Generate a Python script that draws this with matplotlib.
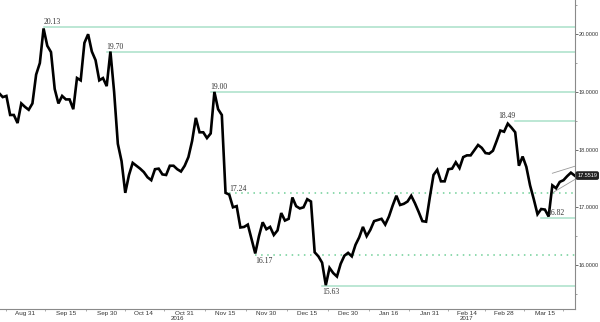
import numpy as np
import pandas as pd
import matplotlib
matplotlib.use("Agg")
import matplotlib.pyplot as plt
import matplotlib.transforms as mtransforms

# ---------------- data ----------------
start_date = "2016-08-22"
prices = [
    18.98, 18.91, 18.93, 18.60, 18.60, 18.46, 18.80, 18.74, 18.69, 18.80,
    19.30, 19.50, 20.10, 19.80, 19.69, 19.05, 18.80, 18.93, 18.87, 18.87,
    18.70, 19.24, 19.20, 19.85, 20.00, 19.70, 19.55, 19.20, 19.24, 19.10,
    19.70, 19.00, 18.10, 17.80, 17.25, 17.56, 17.77, 17.72, 17.67, 17.61,
    17.52, 17.47, 17.66, 17.67, 17.57, 17.56, 17.72, 17.72, 17.66, 17.62,
    17.72, 17.87, 18.15, 18.55, 18.30, 18.30, 18.20, 18.28, 19.00, 18.70,
    18.60, 17.25, 17.22, 17.00, 17.02, 16.65, 16.66, 16.70, 16.45, 16.20,
    16.50, 16.74, 16.62, 16.66, 16.52, 16.60, 16.90, 16.77, 16.80, 17.17,
    17.02, 16.98, 17.00, 17.14, 17.10, 16.22, 16.15, 16.04, 15.65, 15.95,
    15.86, 15.80, 16.02, 16.16, 16.21, 16.15, 16.35, 16.48, 16.66, 16.50,
    16.61, 16.76, 16.78, 16.80, 16.70, 16.84, 17.03, 17.20, 17.04, 17.06,
    17.10, 17.20, 17.07, 16.92, 16.76, 16.75, 17.17, 17.56, 17.65, 17.45,
    17.45, 17.66, 17.67, 17.78, 17.68, 17.87, 17.90, 17.90, 17.99, 18.08,
    18.03, 17.94, 17.93, 17.98, 18.15, 18.33, 18.31, 18.45, 18.38, 18.30,
    17.72, 17.88, 17.70, 17.38, 17.14, 16.88, 16.97, 16.96, 16.84, 17.38,
    17.33, 17.44, 17.47, 17.54, 17.60, 17.55,
]
last_label = "17.5519"

tick_dates = ["2016-08-31", "2016-09-15", "2016-09-30", "2016-10-14", "2016-10-31",
              "2016-11-15", "2016-11-30", "2016-12-15", "2016-12-30", "2017-01-16",
              "2017-01-31", "2017-02-14", "2017-02-28", "2017-03-15"]
tick_labels = ["Aug 31", "Sep 15", "Sep 30", "Oct 14", "Oct 31", "Nov 15", "Nov 30",
               "Dec 15", "Dec 30", "Jan 16", "Jan 31", "Feb 14", "Feb 28", "Mar 15"]
year_labels = ["2016", "2017"]
year_dates = ["2016-10-27", "2017-02-14"]

level_values = [20.13, 19.70, 19.00, 18.49, 17.24, 16.17, 15.63, 16.82]
level_texts = ["20.13", "19.70", "19.00", "18.49", "17.24", "16.17", "15.63", "16.82"]
level_dates = ["2016-09-07", "2016-09-30", "2016-11-09", "2017-03-03", "2016-11-16",
               "2016-11-25", "2016-12-21", "2017-03-14"]
level_dotted = [False, False, False, False, True, True, False, False]

channel_dates = ["2017-03-17", "2017-03-27"]
channel_upper = [17.59, 17.71]
channel_lower = [17.25, 17.48]

yticks = [16.0, 17.0, 18.0, 19.0, 20.0]

# ---------------- plot ----------------
plt.rcParams["font.family"] = ["Liberation Sans", "DejaVu Sans"]

bdays = pd.bdate_range(start_date, periods=len(prices))
pos = {d.strftime("%Y-%m-%d"): i for i, d in enumerate(bdays)}
idx = np.arange(len(prices))

fig = plt.figure(figsize=(6.0, 3.22), dpi=100)
ax = fig.add_axes([0.0, 13 / 322, 575 / 600, 309 / 322])

green = "#a9e0c9"
dotgreen = "#6fcf97"
txtc = "#333333"
serif = ["Liberation Serif", "DejaVu Serif"]

for v, t, d, dot in zip(level_values, level_texts, level_dates, level_dotted):
    x0 = pos[d]
    if dot:
        ax.plot([x0, idx[-1] + 1], [v, v], color=dotgreen, lw=1.1,
                linestyle=(0, (1, 3)), zorder=1)
    else:
        ax.plot([x0, idx[-1] + 1], [v, v], color=green, lw=1.1, zorder=1)

ax.plot(idx, prices, color="black", lw=1.9, zorder=3, solid_joinstyle="miter")

ch = [pos[d] for d in channel_dates]
ax.plot(ch, channel_upper, color="#999999", lw=0.6, zorder=2)
ax.plot(ch, channel_lower, color="#999999", lw=0.6, zorder=2)

# level annotations
for v, t, d in zip(level_values, level_texts, level_dates):
    x0 = pos[d]
    if t in ("16.17", "15.63"):
        ax.text(x0, v - 0.03, t, fontsize=5.5, family=serif, color=txtc,
                ha="left", va="top", zorder=4)
    elif t == "18.49":
        ax.text(x0 + 0.2, v + 0.02, t, fontsize=5.5, family=serif, color=txtc,
                ha="right", va="bottom", zorder=4)
    elif t == "16.82":
        ax.text(x0 + 1.6, v + 0.02, t, fontsize=5.5, family=serif, color=txtc,
                ha="left", va="bottom", zorder=4)
    else:
        ax.text(x0, v + 0.01, t, fontsize=5.5, family=serif, color=txtc,
                ha="left", va="bottom", zorder=4)

ax.set_xlim(0.27, 155.1)
ax.set_ylim(15.237, 20.593)

for s in ("top", "left"):
    ax.spines[s].set_visible(False)
for s in ("right", "bottom"):
    ax.spines[s].set_color("#8a8a8a")
    ax.spines[s].set_linewidth(0.8)

ax.yaxis.tick_right()
ax.set_yticks(yticks)
ax.set_yticklabels([f"{v:.4f}" for v in yticks])
ax.set_yticks(np.arange(15.5, 20.6, 1.0), minor=True)
ax.tick_params(axis="y", which="major", length=1.8, width=0.6, color="#555555",
               labelsize=4.0, pad=0.8, labelcolor=txtc)
ax.tick_params(axis="y", which="minor", length=1.5, width=0.5, color="#777777")

xt = [pos[d] for d in tick_dates]
ax.set_xticks(xt)
ax.set_xticklabels(tick_labels)
ax.set_xticks([(a + b) / 2 for a, b in zip(xt[:-1], xt[1:])] + [xt[0] - 5, xt[-1] + 5], minor=True)
ax.tick_params(axis="x", which="major", length=0, labelsize=4.6, pad=1.2, labelcolor=txtc)
ax.tick_params(axis="x", which="minor", length=1.5, width=0.5, color="#888888")

trans = mtransforms.blended_transform_factory(ax.transData, ax.transAxes)
for t, d in zip(year_labels, year_dates):
    ax.text(pos[d], -0.031, t, transform=trans, fontsize=4.4, color=txtc,
            ha="center", va="center")

# last value box
ax.text(1.004, prices[-1], last_label,
        transform=mtransforms.blended_transform_factory(ax.transAxes, ax.transData),
        fontsize=4.0, color="white", ha="left", va="center", clip_on=False, zorder=5,
        bbox=dict(boxstyle="round,pad=0.2,rounding_size=0.25", fc="#222222", ec="#222222"))

fig.savefig("out.png", dpi=100)
